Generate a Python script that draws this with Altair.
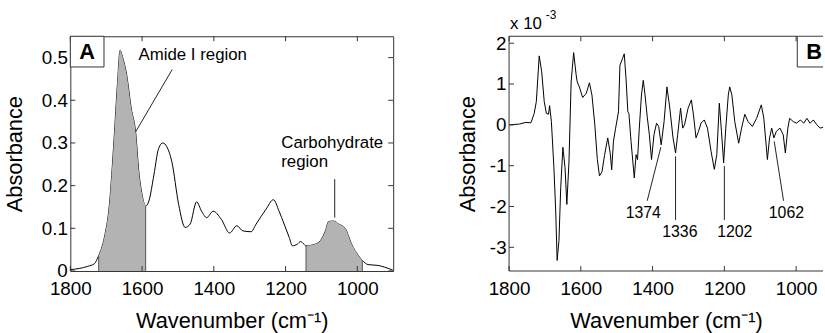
import altair as alt
import pandas as pd

# ---------------- data ----------------
wn_a = [1800, 1751, 1733, 1721, 1705, 1691, 1678, 1669, 1661, 1655, 1643, 1630, 1618, 1609, 1600,
        1590, 1581, 1567, 1554, 1542, 1531, 1517, 1498, 1480, 1466, 1448, 1434, 1420, 1402, 1379,
        1356, 1336, 1319, 1296, 1282, 1255, 1234, 1218, 1204, 1190, 1181, 1167, 1158, 1149, 1143,
        1117, 1103, 1089, 1080, 1066, 1052, 1034, 1016, 997, 986, 970, 942, 924, 901]
abs_a = [0.003, 0.011, 0.017, 0.036, 0.079, 0.156, 0.31, 0.434, 0.517, 0.503, 0.46, 0.38, 0.326, 0.233, 0.179,
         0.152, 0.164, 0.225, 0.287, 0.300, 0.291, 0.256, 0.156, 0.102, 0.110, 0.162, 0.140, 0.125, 0.140, 0.121,
         0.089, 0.106, 0.094, 0.092, 0.110, 0.144, 0.167, 0.140, 0.110, 0.079, 0.059, 0.063, 0.069, 0.063, 0.059,
         0.063, 0.071, 0.094, 0.116, 0.117, 0.110, 0.100, 0.063, 0.036, 0.025, 0.015, 0.013, 0.009, 0.002]

wn_b = [1799, 1771, 1753, 1739, 1730, 1724, 1716, 1709, 1702, 1696, 1690, 1687, 1682, 1675, 1670, 1666,
        1661, 1656, 1650, 1644, 1639, 1633, 1627, 1620, 1613, 1610, 1604, 1595, 1585, 1576, 1569, 1561,
        1554, 1548, 1541, 1534, 1525, 1518, 1514, 1509, 1503, 1495, 1491, 1484, 1479, 1474, 1469, 1466,
        1460, 1451, 1446, 1442, 1437, 1431, 1426, 1421, 1415, 1409, 1403, 1396, 1389, 1383, 1376, 1368,
        1360, 1352, 1343, 1336, 1330, 1322, 1316, 1311, 1301, 1292, 1286, 1279, 1272, 1265, 1256, 1247,
        1237, 1228, 1221, 1214, 1208, 1202, 1196, 1189, 1185, 1179, 1171, 1160, 1152, 1143, 1134, 1122,
        1110, 1097, 1090, 1080, 1074, 1068, 1062, 1055, 1045, 1036, 1030, 1023, 1018, 1008, 999, 988,
        979, 970, 961, 952, 942, 933, 925]
abs_b = [0.0, 0.02, 0.06, 0.05, 0.28, 0.57, 1.69, 1.30, 0.57, 0.28, 0.26, 0.47, 0.08, -1.05, -2.11, -3.32,
         -2.84, -1.54, -0.55, -1.05, -1.95, -0.89, 1.05, 1.77, 1.22, 1.05, 0.93, 0.67, 0.77, 1.03, 0.73, 0.0,
         -0.85, -1.25, -1.15, -0.75, -0.32, -0.70, -1.10, -0.40, -0.08, 0.32, 1.46, 1.62, 1.74, 1.13, 0.32, 0.28,
         -0.41, -1.30, -0.73, -0.85, -0.08, 0.73, 1.09, 0.73, 0.20, -0.24, -0.85, -0.24, 0.04, -0.04, -0.49, 0.08,
         0.93, 0.41, -0.32, -0.69, -0.24, 0.41, -0.08, 0.0, 0.41, 0.61, 0.24, -0.32, -0.16, 0.04, 0.12, -0.08,
         -0.65, -1.09, -0.73, 0.53, -0.16, -0.93, -0.08, 0.73, 0.93, 0.73, 0.08, -0.45, -0.08, 0.26, 0.08, -0.04,
         0.16, 0.49, 0.16, -0.85, -0.32, -0.08, -0.32, -0.16, -0.08, -0.24, -0.69, -0.08, 0.16, 0.08, 0.04, 0.12,
         0.04, 0.16, 0.04, 0.12, 0.0, -0.08, -0.06]

amide_range = [1590, 1721]
carb_range = [986, 1143]
x_ticks = [1800, 1600, 1400, 1200, 1000]
y_ticks_a = [0, 0.1, 0.2, 0.3, 0.4, 0.5]
y_ticks_b = [-3, -2, -1, 0, 1, 2]

# annotations panel A
a_lines = pd.DataFrame({"wn": [1516, 1063], "ab": [0.472, 0.215],
                        "wn2": [1618, 1063], "ab2": [0.326, 0.125]})
a_text = pd.DataFrame({"wn": [1610, 1212, 1212], "ab": [0.507, 0.299, 0.255],
                       "t": ["Amide I region", "Carbohydrate", "region"]})
a_edges = pd.DataFrame({"wn": [1721, 1590, 1143, 986], "ab": [0.036, 0.152, 0.059, 0.025]})

# annotations panel B
b_lines = pd.DataFrame({"wn": [1377, 1336, 1200, 1061], "ab": [-0.55, -0.77, -1.01, -0.405],
                        "wn2": [1415, 1336, 1200, 1035], "ab2": [-1.86, -2.33, -2.33, -1.86]})
b_text = pd.DataFrame({"wn": [1426, 1324, 1171, 1027], "ab": [-2.17, -2.62, -2.62, -2.17],
                       "t": ["1374", "1336", "1202", "1062"]})

WA, WB, H = 326, 317, 237
XDOM_A = [900, 1800]
XDOM_B = [925, 1800]   # panel B is cut off at the right edge of the picture
FONT = "Liberation Sans"
FRAME = "#333333"
FILL = "#b3b3b3"

X_AXIS = alt.Axis(values=x_ticks, format="d", title="Wavenumber (cm⁻¹)", ticks=False, tickSize=0,
                  domain=False, grid=False, labelFontSize=19, titleFontSize=22, labelPadding=9,
                  titlePadding=12, labelFont=FONT, titleFont=FONT, titleFontWeight="normal",
                  labelColor="black", titleColor="black", labelFlush=False, labelOverlap=False)

def xenc(dom):
    return alt.X("wn:Q", scale=alt.Scale(domain=dom, reverse=True, nice=False, zero=False),
                 axis=X_AXIS)

def yenc(domain, ticks, tpad):
    ax = alt.Axis(values=ticks, title="Absorbance", ticks=False, tickSize=0, domain=False, grid=False,
                  labelFontSize=19, titleFontSize=22, labelPadding=3, titlePadding=tpad,
                  labelFont=FONT, titleFont=FONT, titleFontWeight="normal",
                  labelColor="black", titleColor="black", labelFlush=False, labelOverlap=False,
                  labelExpr="'' + datum.value")
    return alt.Y("ab:Q", scale=alt.Scale(domain=domain, nice=False, zero=False), axis=ax)

def tick_layers(xdom, ydomain, yticks, W, tpad, right=True):
    xt = pd.DataFrame({"wn": x_ticks})
    yt = pd.DataFrame({"ab": yticks})
    layers = [
        alt.Chart(xt).mark_rule(color=FRAME, strokeWidth=1).encode(
            x=xenc(xdom), y=alt.value(H), y2=alt.value(H - 5)),
        alt.Chart(xt).mark_rule(color=FRAME, strokeWidth=1).encode(
            x=xenc(xdom), y=alt.value(0), y2=alt.value(5)),
        alt.Chart(yt).mark_rule(color=FRAME, strokeWidth=1).encode(
            y=yenc(ydomain, yticks, tpad), x=alt.value(0), x2=alt.value(5)),
    ]
    if right:
        layers.append(alt.Chart(yt).mark_rule(color=FRAME, strokeWidth=1).encode(
            y=yenc(ydomain, yticks, tpad), x=alt.value(W - 5), x2=alt.value(W)))
    return layers

# ---------------- panel A ----------------
dom_a = [0, 0.55]
TPA = 15
df_a = pd.DataFrame({"wn": wn_a, "ab": abs_a})
ya = lambda: yenc(dom_a, y_ticks_a, TPA)

line_a = alt.Chart(df_a).mark_line(color="black", strokeWidth=1, interpolate="monotone").encode(
    x=xenc(XDOM_A), y=ya())
area_amide = alt.Chart(df_a).transform_filter(
    (alt.datum.wn >= amide_range[0]) & (alt.datum.wn <= amide_range[1])
).mark_area(color=FILL, opacity=1, interpolate="monotone").encode(x=xenc(XDOM_A), y=ya())
area_carb = alt.Chart(df_a).transform_filter(
    (alt.datum.wn >= carb_range[0]) & (alt.datum.wn <= carb_range[1])
).mark_area(color=FILL, opacity=1, interpolate="monotone").encode(x=xenc(XDOM_A), y=ya())
edges_a = alt.Chart(a_edges).mark_rule(color="#555555", strokeWidth=1).encode(
    x=xenc(XDOM_A), y=ya(), y2=alt.datum(0))
lines_a = alt.Chart(a_lines).mark_rule(color="#222222", strokeWidth=1).encode(
    x=xenc(XDOM_A), y=ya(), x2="wn2:Q", y2="ab2:Q")
text_a = alt.Chart(a_text).mark_text(align="left", baseline="middle", fontSize=17, font=FONT,
                                     color="black").encode(
    x=xenc(XDOM_A), y=ya(), text="t:N")
box_a = alt.Chart(pd.DataFrame({"t": ["A"]})).mark_rect(fill="white", stroke=FRAME, strokeWidth=1).encode(
    x=alt.value(0), x2=alt.value(34), y=alt.value(0), y2=alt.value(31))
lab_a = alt.Chart(pd.DataFrame({"t": ["A"]})).mark_text(fontSize=22, fontWeight="bold", font=FONT,
                                                        color="black", baseline="middle").encode(
    x=alt.value(17), y=alt.value(16), text="t:N")

panel_a = alt.layer(line_a, area_amide, area_carb, edges_a, lines_a, text_a,
                    *tick_layers(XDOM_A, dom_a, y_ticks_a, WA, TPA), box_a, lab_a).properties(
    width=WA, height=H, view=alt.ViewBackground(stroke=FRAME, strokeWidth=1))

# ---------------- panel B ----------------
dom_b = [-3.58, 2.17]
TPB = 10
df_b = pd.DataFrame({"wn": wn_b, "ab": abs_b})
yb = lambda: yenc(dom_b, y_ticks_b, TPB)

line_b = alt.Chart(df_b).mark_line(color="black", strokeWidth=1).encode(
    x=xenc(XDOM_B), y=yb())
lines_b = alt.Chart(b_lines).mark_rule(color="#222222", strokeWidth=1).encode(
    x=xenc(XDOM_B), y=yb(), x2="wn2:Q", y2="ab2:Q")
text_b = alt.Chart(b_text).mark_text(align="center", baseline="middle", fontSize=16, font=FONT,
                                     color="black").encode(
    x=xenc(XDOM_B), y=yb(), text="t:N")
one = pd.DataFrame({"t": ["B"]})
frame_top = alt.Chart(one).mark_rule(color=FRAME, strokeWidth=1).encode(
    x=alt.value(0), x2=alt.value(WB), y=alt.value(0))
frame_bot = alt.Chart(one).mark_rule(color=FRAME, strokeWidth=1).encode(
    x=alt.value(0), x2=alt.value(WB), y=alt.value(H))
frame_left = alt.Chart(one).mark_rule(color=FRAME, strokeWidth=1).encode(
    x=alt.value(0), y=alt.value(0), y2=alt.value(H))
box_b = alt.Chart(one).mark_rect(fill="white", stroke=FRAME, strokeWidth=1, clip=True).encode(
    x=alt.value(WB - 26), x2=alt.value(WB + 8), y=alt.value(0), y2=alt.value(31))
lab_b = alt.Chart(one).mark_text(fontSize=22, fontWeight="bold", font=FONT, clip=True,
                                 color="black", baseline="middle").encode(
    x=alt.value(WB - 9), y=alt.value(16), text="t:N")
exp_main = alt.Chart(pd.DataFrame({"t": ["x 10"]})).mark_text(align="left", baseline="alphabetic",
                                                              fontSize=17, font=FONT, color="black").encode(
    x=alt.value(1), y=alt.value(-7), text="t:N")
exp_sup = alt.Chart(pd.DataFrame({"t": ["-3"]})).mark_text(align="left", baseline="alphabetic",
                                                           fontSize=12, font=FONT, color="black").encode(
    x=alt.value(37), y=alt.value(-17), text="t:N")

panel_b = alt.layer(line_b, lines_b, text_b, *tick_layers(XDOM_B, dom_b, y_ticks_b, WB, TPB, right=False),
                    frame_top, frame_bot, frame_left, box_b, lab_b,
                    exp_main, exp_sup).properties(
    width=WB, height=H, view=alt.ViewBackground(stroke="transparent", strokeWidth=0))

chart = alt.hconcat(panel_a, panel_b, spacing=61).properties(
    padding={"left": 3, "top": 8, "right": 0, "bottom": 0})

chart.save("out.html", embed_options={"renderer": "svg", "actions": False})
